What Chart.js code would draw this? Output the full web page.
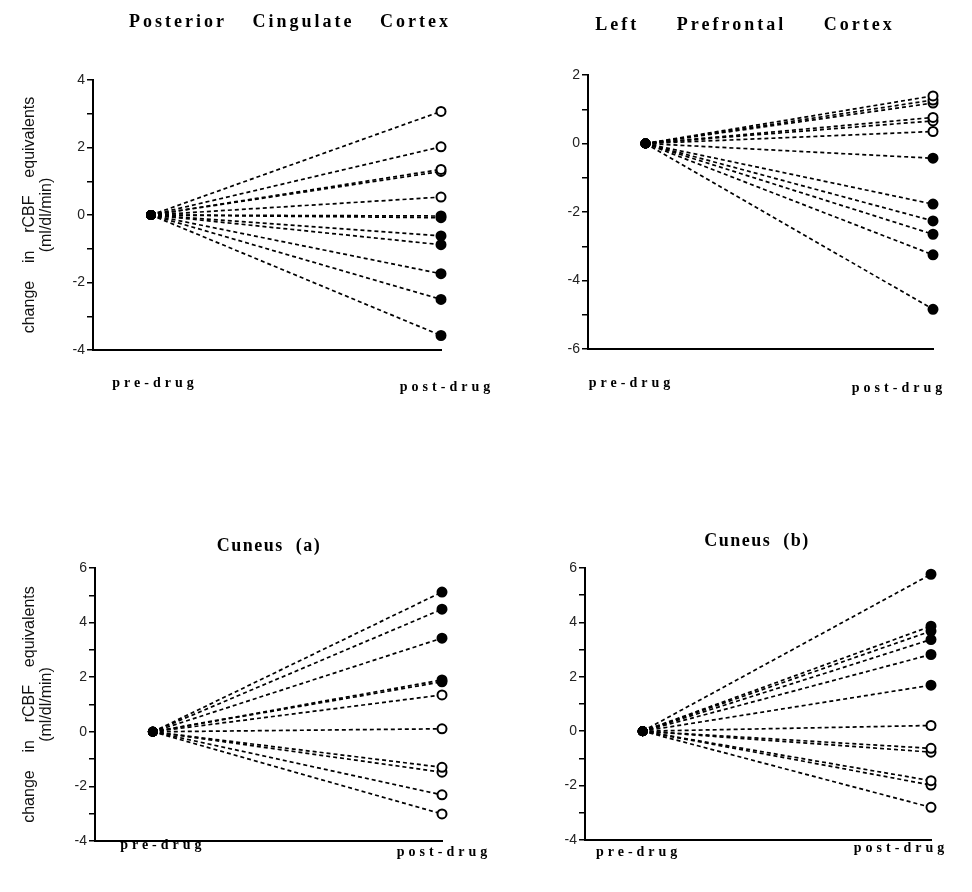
<!DOCTYPE html>
<html>
<head>
<meta charset="utf-8">
<script src="https://cdn.jsdelivr.net/npm/chart.js@4.4.0/dist/chart.umd.min.js"></script>
<style>
  html, body { margin: 0; padding: 0; background: #fff; }
  #wrap { position: relative; width: 972px; height: 892px; }
  #wrap canvas { position: absolute; left: 0; top: 0; }
</style>
</head>
<body>
<div id="wrap">
  <canvas id="pcc" width="972" height="892"></canvas>
  <canvas id="lpfc" width="972" height="892"></canvas>
  <canvas id="cunA" width="972" height="892"></canvas>
  <canvas id="cunB" width="972" height="892"></canvas>
</div>
<script>
const categories = ['pre-drug', 'post-drug'];
const yTitle = ['change    in    rCBF    equivalents', '(ml/dl/min)'];

// change from pre-drug (pre is always 0), one entry per subject
const pccPost = [3.07, 2.02, 1.35, 1.29, 0.53, -0.03, -0.08, -0.62, -0.88, -1.74, -2.50, -3.57];
const pccOpen = [1, 1, 1, 1, 1, 0, 0, 0, 0, 0, 0, 0];

const lpfcPost = [1.39, 1.27, 1.18, 0.76, 0.66, 0.35, -0.43, -1.77, -2.26, -2.65, -3.25, -4.84];
const lpfcOpen = [1, 1, 1, 1, 1, 1, 0, 0, 0, 0, 0, 0];

const cunAPost = [5.12, 4.49, 3.43, 1.90, 1.83, 1.35, 0.11, -1.30, -1.48, -2.31, -3.01];
const cunAOpen = [0, 0, 0, 0, 0, 1, 1, 1, 1, 1, 1];

const cunBPost = [5.77, 3.86, 3.68, 3.37, 2.82, 1.69, 0.21, -0.63, -0.77, -1.82, -1.98, -2.80];
const cunBOpen = [0, 0, 0, 0, 0, 0, 1, 1, 1, 1, 1, 1];

// titles + category labels (letter spaced serif, like the print)
const panelText = {
  id: 'panelText',
  afterDraw(chart, args, opts) {
    const ctx = chart.ctx;
    const xs = chart.scales.x;
    ctx.save();
    ctx.fillStyle = '#000';
    ctx.textAlign = 'center';
    ctx.textBaseline = 'middle';
    ctx.font = 'bold 18px "Liberation Serif"';
    ctx.letterSpacing = opts.ls + 'px';
    ctx.wordSpacing = opts.ws + 'px';
    ctx.fillText(opts.title, opts.titleX, opts.titleY);
    ctx.font = 'bold 14px "Liberation Serif"';
    ctx.letterSpacing = '4px';
    ctx.wordSpacing = '0px';
    categories.forEach((c, i) => {
      ctx.fillText(c, xs.getPixelForValue(i) + opts.labelDx[i], chart.chartArea.bottom + opts.labelDy[i]);
    });
    ctx.restore();
  }
};

function makePanel(id, post, open, p) {
  const yW = p.left - (p.showTitle ? 0 : 60);
  new Chart(document.getElementById(id), {
    type: 'scatter',
    data: {
      datasets: post.map((v, i) => ({
        data: [{x: 0, y: 0}, {x: 1, y: v}],
        showLine: true,
        borderColor: '#000',
        borderWidth: 1.7,
        borderDash: [4, 3],
        pointRadius: [4, 4.5],
        pointBackgroundColor: ['#000', open[i] ? '#fff' : '#000'],
        pointBorderColor: '#000',
        pointBorderWidth: 2,
        clip: false
      }))
    },
    options: {
      responsive: false,
      animation: false,
      layout: {
        padding: {
          left: p.left - yW,
          right: 972 - p.right,
          top: p.top,
          bottom: 892 - p.bottom - 10
        }
      },
      plugins: {
        legend: { display: false },
        tooltip: { enabled: false },
        panelText: p.text
      },
      scales: {
        x: {
          type: 'linear',
          min: -0.2,
          max: 1,
          afterFit: s => { s.height = 10; },
          grid: { display: false },
          border: { color: '#000', width: 2 },
          ticks: { display: false }
        },
        y: {
          min: p.yMin,
          max: p.yMax,
          afterFit: s => { s.width = yW; },
          grid: {
            drawOnChartArea: false,
            drawTicks: true,
            tickLength: 6,
            color: '#000',
            lineWidth: 1.5
          },
          border: { color: '#000', width: 2 },
          ticks: {
            stepSize: 1,
            padding: 2,
            color: '#222',
            font: { family: '"Liberation Sans"', size: 14 },
            callback: v => (v % 2 === 0 ? v : '')
          },
          title: {
            display: p.showTitle,
            text: yTitle,
            color: '#111',
            font: { family: '"Liberation Sans"', size: 16, lineHeight: 1.05 },
            padding: { top: 21, bottom: 0 }
          }
        }
      }
    },
    plugins: [panelText]
  });
}

makePanel('pcc', pccPost, pccOpen, {
  left: 93, right: 441, top: 80, bottom: 350, yMin: -4, yMax: 4, showTitle: true,
  text: { title: 'Posterior Cingulate Cortex', titleX: 290, titleY: 22, ls: 3, ws: 18,
          labelDx: [4, 6], labelDy: [33, 37] }
});
makePanel('lpfc', lpfcPost, lpfcOpen, {
  left: 588, right: 933, top: 75, bottom: 349, yMin: -6, yMax: 2, showTitle: false,
  text: { title: 'Left Prefrontal Cortex', titleX: 745, titleY: 25, ls: 3, ws: 30,
          labelDx: [-14, -34], labelDy: [34, 39] }
});
makePanel('cunA', cunAPost, cunAOpen, {
  left: 95, right: 442, top: 568, bottom: 841, yMin: -4, yMax: 6, showTitle: true,
  text: { title: 'Cuneus (a)', titleX: 269, titleY: 546, ls: 1.5, ws: 6,
          labelDx: [10, 2], labelDy: [4, 11] }
});
makePanel('cunB', cunBPost, cunBOpen, {
  left: 585, right: 931, top: 568, bottom: 840, yMin: -4, yMax: 6, showTitle: false,
  text: { title: 'Cuneus (b)', titleX: 757, titleY: 541, ls: 1.5, ws: 6,
          labelDx: [-4, -30], labelDy: [12, 8] }
});
</script>
</body>
</html>
